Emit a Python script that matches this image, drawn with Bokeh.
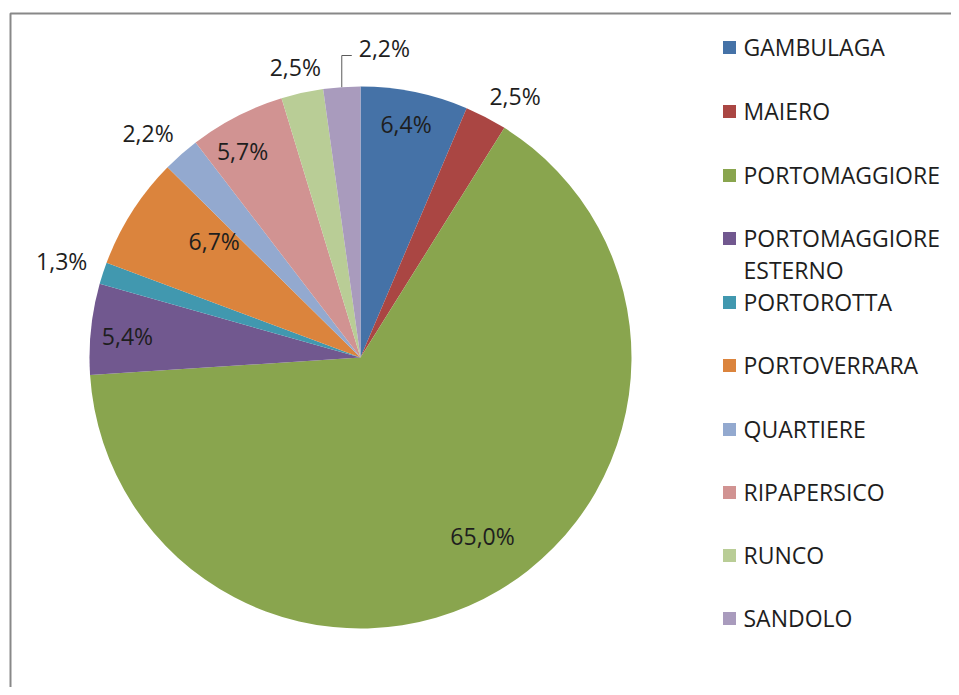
import math
from bokeh.plotting import figure
from bokeh.models import Range1d, ColumnDataSource
from bokeh.core.properties import value
from bokeh.embed import file_html
from bokeh.resources import INLINE

# ---- data ----
categories = ["GAMBULAGA", "MAIERO", "PORTOMAGGIORE", "PORTOMAGGIORE\nESTERNO",
              "PORTOROTTA", "PORTOVERRARA", "QUARTIERE", "RIPAPERSICO", "RUNCO", "SANDOLO"]
percent_values = [6.4, 2.5, 65.0, 5.4, 1.3, 6.7, 2.2, 5.7, 2.5, 2.2]
percent_labels = ["6,4%", "2,5%", "65,0%", "5,4%", "1,3%", "6,7%", "2,2%", "5,7%", "2,5%", "2,2%"]
colors = ["#4572A7", "#AA4643", "#89A54E", "#71588F", "#4198AF",
          "#DB843D", "#93A9CF", "#D19392", "#B9CD96", "#A99BBD"]

# ---- layout (styles / positions) ----
label_radius = [238, 304, 216, 234, 314, 187, 309, 238, 298, None]
label_angle_shift = [0.5, -3.0, 3.6, 0.8, 0.2, -6.0, 2.0, 2.5, 0.2, 0.0]
CX, CY, R = 360.0, -357.0, 271.0
FONT = "Open Sans"
FS = "23px"
TXT = "#1e1e1e"

W, H = 951, 687
p = figure(width=W, height=H, output_backend="svg", toolbar_location=None,
           x_range=Range1d(0, W), y_range=Range1d(-H, 0),
           min_border=0, outline_line_color=None)
p.axis.visible = False
p.grid.visible = False
p.background_fill_color = "white"
p.border_fill_color = "white"

# chart area border (top and left visible)
p.line([10, 10, 1000], [-720, -13, -13], line_color="#888888", line_width=2)

total = sum(percent_values)
starts, ends, mids = [], [], []
cum = 0.0
for v in percent_values:
    a0 = math.pi / 2 - 2 * math.pi * cum / total
    cum += v
    a1 = math.pi / 2 - 2 * math.pi * cum / total
    starts.append(a1)
    ends.append(a0)
    mids.append((a0 + a1) / 2)

src = ColumnDataSource(dict(start=starts, end=ends, color=colors))
p.wedge(x=CX, y=CY, radius=R, start_angle="start", end_angle="end",
        fill_color="color", line_color=None, source=src)

# labels
lx, ly, lt = [], [], []
for i, lab in enumerate(percent_labels):
    r = label_radius[i]
    if r is None:
        continue
    a = mids[i] + math.radians(label_angle_shift[i])
    lx.append(CX + r * math.cos(a))
    ly.append(CY + r * math.sin(a))
    lt.append(lab)
p.text(x=lx, y=ly, text=lt, text_align="center", text_baseline="middle",
       text_font=value(FONT), text_font_size=FS, text_color=TXT)

# leader line label for last (SANDOLO) slice
a = mids[-1]
ex, ey = CX + R * math.cos(a), CY + R * math.sin(a)
p.line([ex, ex, ex + 10], [ey, -55, -55], line_color="#5a5a5a", line_width=1)
p.text(x=[ex + 17], y=[-47], text=[percent_labels[-1]], text_align="left",
       text_baseline="middle", text_font=value(FONT), text_font_size=FS, text_color=TXT)

# legend
leg_y = [-46, -110, -174, -237, -301, -364, -428, -491, -554, -617]
p.rect(x=[729] * len(categories), y=[y - 1 for y in leg_y], width=13, height=13,
       fill_color=colors, line_color=None)
for name, y in zip(categories, leg_y):
    lines = name.split("\n")
    for k, ln in enumerate(lines):
        p.text(x=[743], y=[y - 32 * k], text=[ln], text_align="left",
               text_baseline="middle", text_font=value(FONT), text_font_size=FS,
               text_color=TXT)

open("out.html", "w").write(file_html(p, INLINE))
